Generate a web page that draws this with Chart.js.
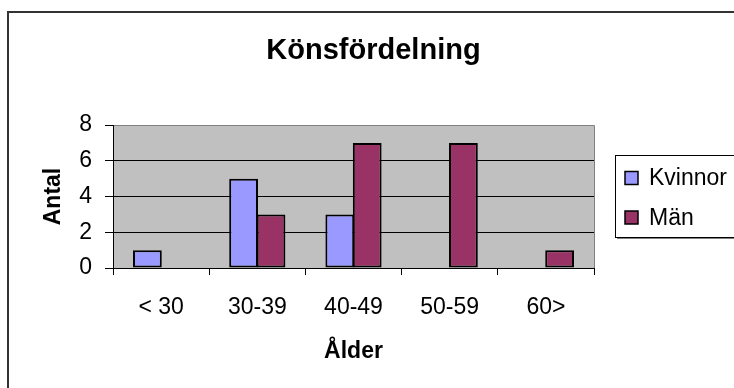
<!DOCTYPE html>
<html><head><meta charset="utf-8">
<script src="https://cdn.jsdelivr.net/npm/chart.js@4/dist/chart.umd.min.js"></script>
<style>html,body{margin:0;padding:0;background:#fff;} #wrap{width:734px;height:388px;}</style>
</head><body><div id="wrap"><canvas id="c" width="734" height="388"></canvas></div>
<script>
const categories = ['< 30', '30-39', '40-49', '50-59', '60>'];
const kvinnor = [1, 5, 3, 0, 0];
const man = [0, 3, 7, 7, 1];
const seriesNames = ['Kvinnor', 'Män'];
const seriesColors = ['#9999FF', '#993366'];
const yMin = 0, yMax = 8, yStep = 2;
const chartTitle = 'Könsfördelning';
const xTitle = 'Ålder';
const yTitle = 'Antal';

const FAM = '"Liberation Sans", Arial, sans-serif';

const framePlugin = {
  id: 'frame',
  afterLayout(chart) {
    const t = chart.titleBlock;
    if (t) { t.left = 8; t.right = 739; }
  },
  beforeDraw(chart) {
    const {ctx, chartArea: a} = chart;
    ctx.save();
    ctx.fillStyle = '#fff';
    ctx.fillRect(0, 0, chart.width, chart.height);
    ctx.strokeStyle = '#333';
    ctx.lineWidth = 2;
    ctx.strokeRect(8, 12, chart.width + 20, chart.height + 20);
    ctx.fillStyle = '#C0C0C0';
    ctx.fillRect(a.left, a.top, a.right - a.left, a.bottom - a.top);
    ctx.strokeStyle = '#808080';
    ctx.lineWidth = 1;
    ctx.beginPath();
    ctx.moveTo(a.left, a.top + 0.5);
    ctx.lineTo(a.right + 0.5, a.top + 0.5);
    ctx.lineTo(a.right + 0.5, a.bottom);
    ctx.stroke();
    ctx.restore();
  }
};

const legendPlugin = {
  id: 'boxLegend',
  afterDraw(chart) {
    const ctx = chart.ctx;
    ctx.save();
    const x = 615, y = 155, w = 130, h = 82;
    ctx.fillStyle = '#808080';
    ctx.fillRect(x + 2, y + h, w, 2);
    ctx.fillStyle = '#fff';
    ctx.fillRect(x, y, w, h);
    ctx.strokeStyle = '#000';
    ctx.lineWidth = 1;
    ctx.strokeRect(x + 0.5, y + 0.5, w, h);
    chart.data.datasets.forEach((ds, i) => {
      const cy = 178 + i * 39.5;
      ctx.fillStyle = ds.backgroundColor;
      ctx.fillRect(625, cy - 6.5, 13, 13);
      ctx.strokeStyle = '#000';
      ctx.lineWidth = 1.5;
      ctx.strokeRect(625, cy - 6.5, 13, 13);
      ctx.fillStyle = '#000';
      ctx.font = '23px ' + FAM;
      ctx.textBaseline = 'middle';
      ctx.textAlign = 'left';
      ctx.fillText(ds.label, 649, cy + 1);
    });
    ctx.restore();
  }
};

new Chart(document.getElementById('c'), {
  type: 'bar',
  data: {
    labels: categories,
    datasets: [
      {label: seriesNames[0], data: kvinnor, backgroundColor: seriesColors[0], borderColor: '#000', borderWidth: 2, borderSkipped: false, inflateAmount: 0},
      {label: seriesNames[1], data: man, backgroundColor: seriesColors[1], borderColor: '#000', borderWidth: 2, borderSkipped: false, inflateAmount: 0}
    ]
  },
  options: {
    responsive: false,
    animation: false,
    devicePixelRatio: 1,
    barPercentage: 1.05,
    categoryPercentage: 0.57,
    layout: {padding: {left: 0, right: 140, top: 0, bottom: 0}},
    plugins: {
      legend: {display: false},
      tooltip: {enabled: false},
      title: {
        display: true, text: chartTitle, color: '#000',
        font: {family: FAM, size: 29, weight: 'bold'},
        padding: {top: 34, bottom: 56.2}
      }
    },
    scales: {
      x: {
        grid: {offset: true, drawOnChartArea: false, drawTicks: true, tickLength: 7, color: '#000', lineWidth: 1},
        border: {display: true, color: '#000', width: 1},
        ticks: {color: '#000', font: {family: FAM, size: 23}, padding: 19, maxRotation: 0, autoSkip: false},
        title: {display: true, text: xTitle, color: '#000', font: {family: FAM, size: 23, weight: 'bold'}, padding: {top: 0, bottom: 23}},
        afterFit(s) { s.height = 120; }
      },
      y: {
        min: yMin, max: yMax,
        ticks: {stepSize: yStep, color: '#000', font: {family: FAM, size: 23}, padding: 13},
        grid: {color: (c) => (c.tick && c.tick.value === yMax) ? '#808080' : '#000', tickColor: '#000', tickLength: 8, lineWidth: 1},
        border: {display: true, color: '#000', width: 1},
        title: {display: true, text: yTitle, color: '#000', font: {family: FAM, size: 23, weight: 'bold'}, padding: {top: 40, bottom: 0}},
        afterFit(s) { s.width = 113; }
      }
    }
  },
  plugins: [framePlugin, legendPlugin]
});
</script>
</body></html>
